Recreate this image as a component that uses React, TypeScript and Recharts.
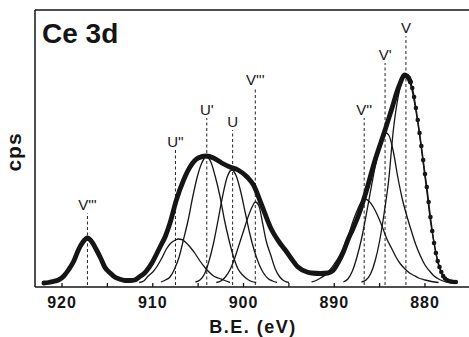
import { ComposedChart, Line, XAxis, YAxis, ReferenceLine } from "recharts";

// Ce 3d XPS spectrum, peak heights in arbitrary cps units

type Pt = { e: number; v: number };
const toPts = (rows: number[][]): Pt[] => rows.map(([e, v]) => ({ e, v }));

const envelope = [
  [922.0, 0], [921.5, 0.5], [921.0, 1.5], [920.4, 3], [919.8, 7], [919.3, 13],
  [918.7, 22], [918.2, 33], [917.7, 41], [917.2, 45], [916.7, 41], [916.2, 33],
  [915.7, 24], [915.3, 16], [914.7, 10], [914.2, 6], [913.5, 3.5], [913.0, 2.5],
  [912.5, 2.5], [912.0, 3], [911.5, 6], [910.9, 10], [910.1, 20], [909.2, 36],
  [908.6, 47], [908.1, 60], [907.4, 83], [906.6, 103], [905.9, 116], [905.0, 125],
  [904.1, 127], [903.3, 125], [902.4, 120], [901.5, 116], [900.6, 113], [899.6, 106],
  [898.9, 98], [898.0, 78], [897.0, 55], [896.0, 40], [895.4, 33], [894.7, 24],
  [894.0, 16], [893.0, 11], [892.5, 10], [891.5, 9.5], [890.7, 10], [890.0, 14],
  [889.6, 20], [889.0, 31], [888.5, 43], [887.9, 55], [887.4, 66], [886.6, 88],
  [885.5, 123], [884.4, 153], [883.7, 173], [882.9, 196], [882.2, 208], [882.0, 207],
  [881.8, 205], [881.6, 201],
];

// measured points on the steep low-energy flank
const flankDots = [
  [882.0, 207], [881.8, 205], [881.6, 201], [881.4, 195], [881.2, 186], [881.0, 175],
  [880.8, 163], [880.6, 150], [880.4, 137], [880.2, 123], [880.0, 109], [879.8, 96],
  [879.6, 81], [879.4, 66], [879.2, 52], [879.0, 40], [878.8, 30], [878.6, 22],
  [878.4, 16], [878.2, 11], [878.0, 7], [877.8, 4.5], [877.6, 3], [877.4, 2],
  [877.2, 1.5], [877.0, 1.2], [876.8, 1], [876.6, 1],
];

const peakUpp = [
  [911.5, 0.5], [911.0, 2], [910.5, 7], [910.0, 11], [909.5, 17], [909.0, 25],
  [908.5, 34], [908.0, 40], [907.5, 43], [907.2, 44], [906.8, 43.5], [906.3, 40],
  [905.8, 35], [905.3, 29], [904.8, 22], [904.3, 16], [903.8, 11], [903.3, 7],
  [902.8, 5], [902.2, 3], [901.5, 0.5],
];

const peakUp = [
  [909.1, 1], [908.6, 3], [908.1, 6], [907.6, 14], [907.1, 26], [906.6, 44],
  [906.1, 63], [905.6, 86], [905.1, 106], [904.6, 120], [904.1, 126], [903.6, 121],
  [903.1, 106], [902.6, 87], [902.1, 63], [901.6, 43], [901.1, 26], [900.6, 14],
  [900.1, 8], [899.6, 4], [899.1, 1.5], [898.6, 0.5],
];

const peakU = [
  [905.3, 1], [904.8, 3], [904.3, 9], [903.8, 22], [903.3, 40], [902.8, 63],
  [902.3, 87], [901.8, 106], [901.3, 113], [900.8, 107], [900.3, 91], [899.8, 70],
  [899.3, 49], [898.8, 32], [898.3, 19], [897.8, 10], [897.3, 4.5], [896.8, 2],
  [896.3, 0.5],
];

const peakVppp = [
  [903.0, 0.5], [902.5, 2], [902.0, 6], [901.5, 13], [901.0, 24], [900.5, 38],
  [900.0, 52], [899.5, 66], [899.0, 77], [898.7, 81], [898.3, 77], [897.9, 60],
  [897.5, 42], [897.0, 28], [896.5, 14], [896.0, 6], [895.5, 2], [895.0, 0.5],
];

const peakVpp = [
  [892.5, 1], [892.0, 2.5], [891.5, 5], [891.0, 8], [890.5, 13], [890.0, 19],
  [889.5, 26], [889.0, 35], [888.5, 46], [888.0, 60], [887.5, 72], [887.0, 81],
  [886.6, 84], [886.2, 82], [885.7, 76], [885.2, 67], [884.7, 56], [884.2, 44],
  [883.7, 35], [883.2, 26], [882.7, 19], [882.2, 14], [881.7, 10], [881.2, 7.5],
  [880.7, 5], [880.0, 3], [879.3, 1.5], [878.5, 0.5],
];

const peakVp = [
  [889.0, 1], [888.5, 4], [888.0, 12], [887.5, 26], [887.0, 44], [886.5, 67],
  [886.0, 92], [885.5, 116], [885.0, 135], [884.6, 147], [884.3, 150], [884.0, 148],
  [883.5, 132], [883.0, 106], [882.5, 84], [882.0, 67], [881.5, 52], [881.0, 38],
  [880.5, 27], [880.0, 18], [879.5, 12], [879.0, 7], [878.5, 4], [878.0, 2],
  [877.5, 0.5],
];

const peakV = [
  [887.0, 1], [886.5, 3], [886.0, 9], [885.5, 22], [885.0, 42], [884.5, 70],
  [884.0, 103], [883.5, 152], [883.0, 184], [882.6, 200], [882.2, 206], [881.8, 203],
  [881.4, 192], [881.0, 172], [880.6, 148], [880.2, 120], [879.8, 92], [879.4, 62],
  [879.0, 40], [878.5, 18], [878.0, 7], [877.5, 2], [877.0, 0.5],
];

const components = [peakUpp, peakUp, peakU, peakVppp, peakVpp, peakVp, peakV];

const peakNames = ["V'''", "U''", "U'", "U", "V'''", "V''", "V'", "V"];
const peakEnergies = [917.2, 907.5, 904.05, 901.2, 898.7, 886.7, 884.4, 882.1];
const peakTops = [70, 133, 165, 153, 195, 165, 220, 247];

const xTicks = [920, 915, 910, 905, 900, 895, 890, 885, 880];

const FONT = "'Liberation Sans', Arial, Helvetica, sans-serif";
const INK = "#151515";

function EnergyTick({ x, y, payload }: any) {
  const major = payload.value % 10 === 0;
  return (
    <g>
      <line x1={x} x2={x} y1={y} y2={y - 4} stroke={INK} strokeWidth={1.3} />
      {major && (
        <text x={x} y={y + 20.5} textAnchor="middle" fontFamily={FONT} fontWeight="bold" fontSize={16} letterSpacing={1} fill={INK}>
          {payload.value}
        </text>
      )}
    </g>
  );
}

export default function App() {
  return (
    <div style={{ position: "absolute", left: 0, top: 0, width: 469, height: 337, background: "#fff" }}>
      <ComposedChart width={469} height={337} margin={{ top: 10, right: 0, bottom: 0, left: 0 }}>
        <XAxis
          type="number"
          dataKey="e"
          domain={[875.15, 922.98]}
          reversed
          allowDataOverflow
          ticks={xTicks}
          tick={<EnergyTick />}
          tickSize={0}
          tickMargin={0}
          tickLine={false}
          axisLine={{ stroke: INK, strokeWidth: 1.5 }}
          height={50}
          label={{
            content: () => (
              <text x={253} y={333} textAnchor="middle" fontFamily={FONT} fontWeight="bold" fontSize={18} letterSpacing={1.5} fill={INK}>
                B.E. (eV)
              </text>
            ),
          }}
        />
        <YAxis
          type="number"
          dataKey="v"
          domain={[-4, 273]}
          allowDataOverflow
          width={35}
          tick={false}
          tickLine={false}
          axisLine={{ stroke: INK, strokeWidth: 1.5 }}
          label={{
            content: () => (
              <text transform="translate(20.5,152) rotate(-90)" textAnchor="middle" fontFamily={FONT} fontWeight="bold" fontSize={21} letterSpacing={1} fill={INK}>
                cps
              </text>
            ),
          }}
        />
        <ReferenceLine
          y={273}
          stroke={INK}
          strokeWidth={1.5}
          label={{
            content: () => (
              <text x={42} y={43} fontFamily={FONT} fontWeight="bold" fontSize={28} fill={INK}>
                Ce 3d
              </text>
            ),
          }}
        />
        {peakNames.map((name, i) => (
          <ReferenceLine
            key={i}
            segment={[
              { x: peakEnergies[i], y: -2 },
              { x: peakEnergies[i], y: peakTops[i] },
            ]}
            stroke="#222"
            strokeWidth={1}
            strokeDasharray="3 2.5"
            label={{ value: name, position: "top", offset: 3, fontFamily: FONT, fontSize: 15, fill: INK }}
          />
        ))}
        {components.map((rows, i) => (
          <Line
            key={i}
            data={toPts(rows)}
            dataKey="v"
            type="monotone"
            stroke={INK}
            strokeWidth={1.3}
            dot={false}
            isAnimationActive={false}
          />
        ))}
        <Line
          data={toPts(flankDots)}
          dataKey="v"
          type="monotone"
          stroke={INK}
          strokeWidth={1.4}
          dot={{ r: 2.3, fill: INK, stroke: "none" }}
          isAnimationActive={false}
        />
        <Line
          data={toPts(envelope)}
          dataKey="v"
          type="monotone"
          stroke={INK}
          strokeWidth={4.8}
          strokeLinejoin="round"
          strokeLinecap="round"
          dot={false}
          isAnimationActive={false}
        />
      </ComposedChart>
    </div>
  );
}
